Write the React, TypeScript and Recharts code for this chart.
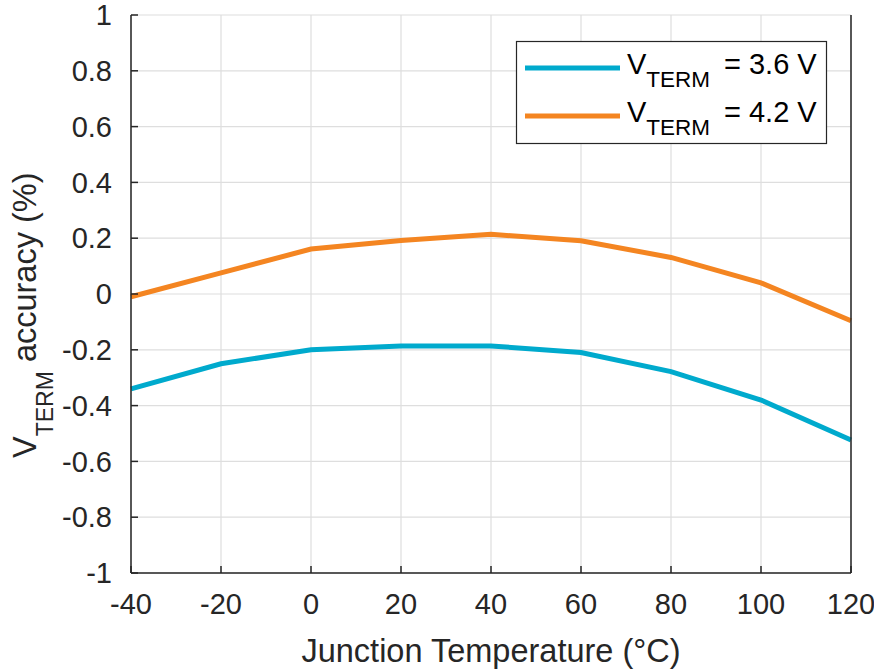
import { LineChart, Line, XAxis, YAxis, CartesianGrid, Legend } from 'recharts'

const TEMPS = [-40, -20, 0, 20, 40, 60, 80, 100, 120]
const VTERM_36 = [-0.34, -0.25, -0.2, -0.186, -0.186, -0.21, -0.278, -0.38, -0.523]
const VTERM_42 = [-0.01, 0.076, 0.161, 0.192, 0.214, 0.191, 0.131, 0.04, -0.096]
const X_TICKS = [-40, -20, 0, 20, 40, 60, 80, 100, 120]
const Y_TICKS = [-1, -0.8, -0.6, -0.4, -0.2, 0, 0.2, 0.4, 0.6, 0.8, 1]
const SERIES_NAMES = ['= 3.6 V', '= 4.2 V']

const FONT = '"Liberation Sans", Arial, Helvetica, sans-serif'
const INK = '#262626'
const BLUE = '#00aacd'
const ORANGE = '#f48521'

const data = TEMPS.map((t, i) => ({ temp: t, v36: VTERM_36[i], v42: VTERM_42[i] }))

const fmt = (v: number) => String(Number(v.toFixed(1)))

function LegendBox({ payload }: any) {
  const items = (payload ?? []).filter((p: any) => p.type !== 'none')
  return (
    <svg width={311} height={103} style={{ display: 'block', overflow: 'visible' }}>
      <rect x={0.5} y={0.5} width={310} height={102} fill="#fff" stroke={INK} strokeWidth={1.2} />
      {items.map((p: any, i: number) => {
        const y = 27 + i * 48
        return (
          <g key={p.value}>
            <line x1={9} x2={104} y1={y} y2={y} stroke={p.color} strokeWidth={5} />
            <text x={111} y={y + 6} fontSize={29} fontFamily={FONT} fill="#000">
              V
              <tspan dy={13} fontSize={22.5}>TERM</tspan>
              <tspan x={208} dy={-13}>{p.value}</tspan>
            </text>
          </g>
        )
      })}
    </svg>
  )
}

function YLabel() {
  return (
    <text
      x={36}
      y={458}
      transform="rotate(-90, 36, 458)"
      fontSize={32.5}
      fontFamily={FONT}
      fill={INK}
    >
      V
      <tspan dy={17} fontSize={23}>TERM</tspan>
      <tspan dy={-17}> accuracy (%)</tspan>
    </text>
  )
}

function XLabel() {
  return (
    <text x={491} y={662} textAnchor="middle" fontSize={32.5} fontFamily={FONT} fill={INK}>
      Junction Temperature (°C)
    </text>
  )
}

export default function App() {
  const tick = { fill: INK, fontSize: 29, fontFamily: FONT }
  return (
    <div style={{ position: 'absolute', left: 0, top: 0, width: 874, height: 670, background: '#fff' }}>
      <LineChart width={874} height={670} data={data} margin={{ top: 15, right: 0, bottom: 0, left: 0 }}>
        <CartesianGrid stroke="#dedede" strokeWidth={1.2} vertical horizontal />
        <XAxis
          dataKey="temp"
          type="number"
          domain={[-40, 120]}
          ticks={X_TICKS}
          height={97}
          tickSize={-7}
          tickMargin={27}
          tick={tick}
          stroke={INK}
          strokeWidth={1.5}
          interval={0}
          label={{ content: () => <XLabel /> }}
        />
        <XAxis
          xAxisId="top"
          orientation="top"
          dataKey="temp"
          type="number"
          domain={[-40, 120]}
          ticks={X_TICKS}
          height={0}
          tickSize={-7}
          tick={false}
          stroke={INK}
          strokeWidth={1.5}
        />
        <YAxis
          type="number"
          domain={[-1, 1]}
          ticks={Y_TICKS}
          width={131}
          tickSize={-7}
          tickMargin={26}
          tick={tick}
          tickFormatter={fmt}
          stroke={INK}
          strokeWidth={1.5}
          interval={0}
          label={{ content: () => <YLabel /> }}
        />
        <YAxis
          yAxisId="right"
          orientation="right"
          type="number"
          domain={[-1, 1]}
          ticks={Y_TICKS}
          width={23}
          tickSize={-7}
          tick={false}
          stroke={INK}
          strokeWidth={1.5}
        />
        <Legend
          layout="vertical"
          align="center"
          verticalAlign="middle"
          wrapperStyle={{ left: 516, top: 41, width: 311, height: 103 }}
          content={(props: any) => <LegendBox {...props} />}
        />
        <Line
          dataKey="v36"
          name={SERIES_NAMES[0]}
          stroke={BLUE}
          strokeWidth={5}
          dot={false}
          type="linear"
          isAnimationActive={false}
        />
        <Line
          dataKey="v42"
          name={SERIES_NAMES[1]}
          stroke={ORANGE}
          strokeWidth={5}
          dot={false}
          type="linear"
          isAnimationActive={false}
        />
      </LineChart>
    </div>
  )
}
